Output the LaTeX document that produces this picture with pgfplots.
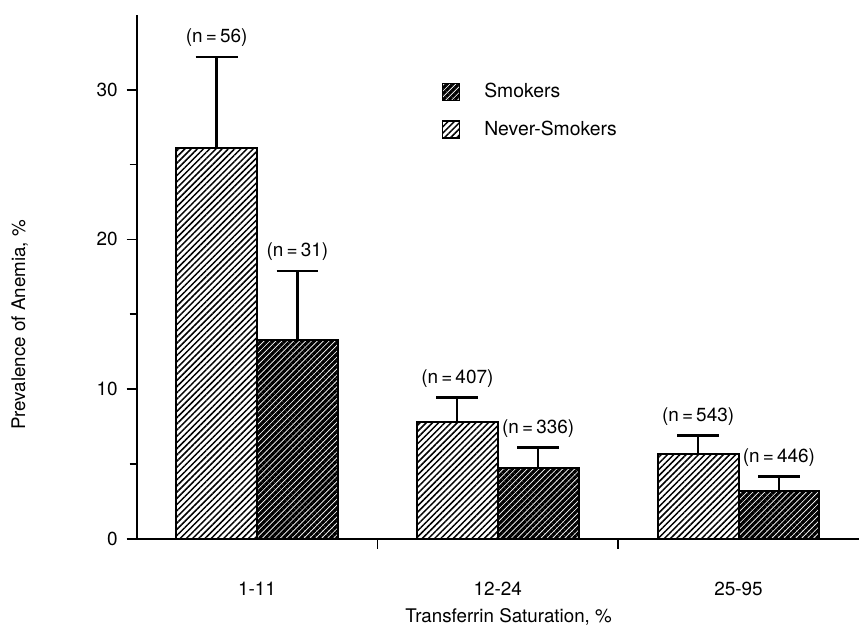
\documentclass[border=0pt]{standalone}
\usepackage{pgfplots}
\pgfplotsset{compat=1.18}
\usepackage{pgfplotstable}
\usepackage{fontspec}
\setmainfont{TeX Gyre Heros}
\usetikzlibrary{patterns.meta}

% prevalence of anemia (%) and upper error (SE) by transferrin saturation group
\pgfplotstableread{
x     y     err   lab
0    26.1   6.1   {(n\,=\,56)}
1     7.8   1.65  {(n\,=\,407)}
2     5.65  1.25  {(n\,=\,543)}
}\never
\pgfplotstableread{
x     y     err   lab
0    13.3   4.6   {(n\,=\,31)}
1     4.7   1.4   {(n\,=\,336)}
2     3.2   0.95  {(n\,=\,446)}
}\smokers

\tikzset{
  neverfill/.style={pattern={Lines[angle=45,distance=2.2pt,line width=0.75pt]}, pattern color=black},
  smokefill/.style={pattern={Lines[angle=45,distance=2.1pt,line width=1.6pt]}, pattern color=black},
}
\pgfplotsset{
  errbars/.style={
    error bars/y dir=plus, error bars/y explicit,
    error bars/error bar style={line width=1.1pt, black},
    error bars/error mark options={rotate=90, mark size=10.5pt, line width=1.3pt, black},
  },
  nlabels/.style={
    draw=none, fill=none, forget plot,
    nodes near coords, point meta=explicit symbolic,
    every node near coord/.append style={font=\fontsize{9.5}{11}\selectfont, anchor=south, yshift=1.5pt},
  },
}

\begin{document}
\begin{tikzpicture}
\begin{axis}[
  name=ax, at={(0,0)}, anchor=south west,
  width=362pt, height=262.5pt, scale only axis,
  xmin=-0.5, xmax=2.5, ymin=0, ymax=35,
  axis lines=left,
  axis line style={-, line width=1.1pt},
  ybar, bar width=0.336,
  ytick={0,10,20,30},
  minor ytick={5,15,25},
  yticklabel style={font=\fontsize{9.5}{11}\selectfont, xshift=-1pt},
  ytick style={line width=0.9pt, black},
  tick align=outside,
  major tick length=5pt, minor tick length=3.5pt,
  xtick={0,1,2},
  xticklabels={1-11,12-24,25-95},
  x tick style={draw=none},
  xticklabel style={font=\fontsize{9.5}{11}\selectfont, yshift=-13pt},
  extra x ticks={0.5,1.5},
  extra x tick labels={},
  extra x tick style={x tick style={draw=black, line width=0.9pt}},
  /pgf/number format/assume math mode=true,
  ylabel={Prevalence of Anemia, \%},
  ylabel style={font=\fontsize{9.4}{11}\selectfont, at={(axis description cs:-0.162,0.408)}, anchor=center},
  xlabel={Transferrin Saturation, \%},
  xlabel style={font=\fontsize{9.4}{11}\selectfont, at={(axis description cs:0.515,-0.149)}, anchor=center},
  legend style={draw=none, fill=none, at={(axis cs:0.74,31.0)}, anchor=north west,
    font=\fontsize{9.7}{11}\selectfont, row sep=6pt},
  legend cell align=left,
  reverse legend,
  legend image code/.code={\draw[#1, line width=0.8pt] (0pt,-4.3pt) rectangle (8.6pt,4.3pt);},
]
\addplot[draw=black, line width=1pt, neverfill, bar shift=-0.168, errbars]
  table[x=x, y=y, y error=err] {\never};
\addlegendentry{\hspace{10pt}Never-Smokers}
\addplot[draw=black, line width=1pt, smokefill, bar shift=0.168, errbars]
  table[x=x, y=y, y error=err] {\smokers};
\addlegendentry{\hspace{10pt}Smokers}

% sample size labels above the error bars
\addplot[nlabels, bar shift=-0.168]
  table[x=x, y expr=\thisrow{y}+\thisrow{err}, meta=lab] {\never};
\addplot[nlabels, bar shift=0.168]
  table[x=x, y expr=\thisrow{y}+\thisrow{err}, meta=lab] {\smokers};
\end{axis}
\path (-68.5pt,-45pt) rectangle (361.5pt,270pt);
\end{tikzpicture}
\end{document}
